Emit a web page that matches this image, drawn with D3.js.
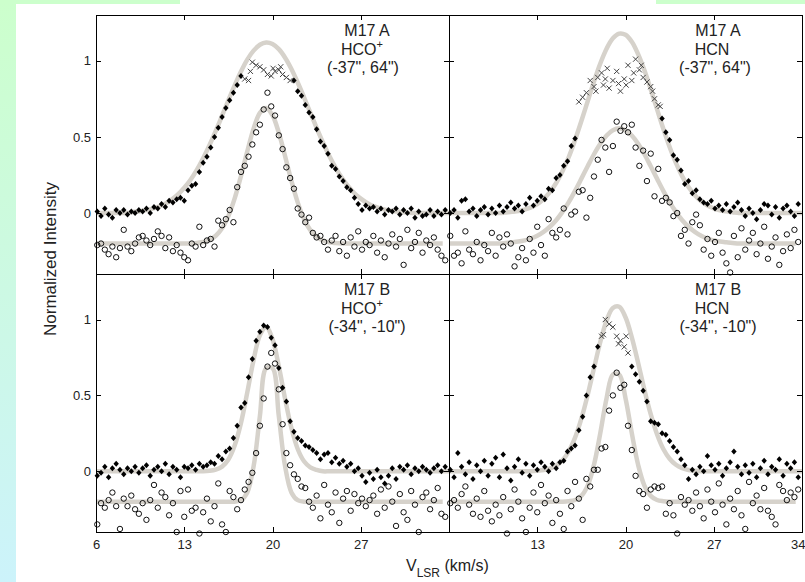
<!DOCTYPE html>
<html><head><meta charset="utf-8">
<script src="https://cdn.jsdelivr.net/npm/d3@7"></script>
<style>
html,body{margin:0;padding:0;background:#fff;}
svg{display:block;font-family:"Liberation Sans",Arial,Helvetica,sans-serif;}
</style></head><body>
<svg id="chart" width="805" height="582"></svg>
<script>
// ---------- data ----------
const xTicks = [6, 13, 20, 27, 34];
const yTicks = [0, 0.5, 1];
const chanVel = [6.1,6.4,6.7,7.0,7.3,7.6,7.9,8.2,8.5,8.8,9.1,9.4,9.7,10.0,10.3,10.6,10.9,11.2,11.5,11.8,12.1,12.4,12.7,13.0,13.3,13.6,13.9,14.2,14.5,14.8,15.1,15.4,15.7,16.0,16.3,16.6,16.9,17.2,17.5,17.8,18.1,18.4,18.7,19.0,19.3,19.6,19.9,20.2,20.5,20.8,21.1,21.4,21.7,22.0,22.3,22.6,22.9,23.2,23.5,23.8,24.1,24.4,24.7,25.0,25.3,25.6,25.9,26.2,26.5,26.8,27.1,27.4,27.7,28.0,28.3,28.6,28.9,29.2,29.5,29.8,30.1,30.4,30.7,31.0,31.3,31.6,31.9,32.2,32.5,32.8,33.1,33.4,33.7];
const fitVel = [6,6.5,7,7.5,8,8.5,9,9.5,10,10.5,11,11.5,12,12.5,13,13.5,14,14.5,15,15.5,16,16.5,17,17.5,18,18.5,19,19.5,20,20.5,21,21.5,22,22.5,23,23.5,24,24.5,25,25.5,26,26.5,27,27.5,28,28.5,29,29.5,30,30.5,31,31.5,32,32.5,33,33.5,34];

// M17 A HCO+
const tlDiamond = [0.01,-0.02,0.03,-0.01,-0.03,0.02,0.00,0.02,-0.01,0.01,0.00,0.02,0.01,0.03,0.00,0.04,0.03,0.06,0.04,0.08,0.07,0.09,0.10,0.08,0.15,0.18,0.19,0.27,0.33,0.37,0.43,0.50,0.56,0.63,0.69,0.74,0.79,0.84,0.90,null,null,null,null,null,null,null,null,null,null,null,null,null,0.87,0.80,0.77,0.71,0.66,0.63,0.55,0.47,0.44,0.39,0.31,0.29,0.24,0.21,0.17,0.15,0.10,0.06,0.02,0.05,0.03,0.04,0.01,0.03,-0.01,0.02,0.01,0.03,-0.01,0.02,0.00,0.03,-0.03,0.01,-0.02,-0.01,0.02,-0.02,0.01,-0.01,0.02];
const tlCircle = [-0.21,-0.20,-0.24,-0.27,-0.22,-0.29,-0.23,-0.11,-0.22,-0.25,-0.20,-0.16,-0.15,-0.18,-0.21,-0.17,-0.12,-0.15,-0.23,-0.16,-0.25,-0.21,-0.26,-0.29,-0.31,-0.20,-0.22,-0.09,-0.21,-0.18,-0.17,-0.22,-0.05,-0.08,-0.04,0.02,-0.06,0.17,0.27,0.31,0.37,0.45,0.53,0.58,0.68,0.79,0.70,0.64,0.51,0.42,0.30,0.23,0.16,0.03,-0.01,-0.06,-0.03,-0.13,-0.16,-0.15,-0.19,-0.24,-0.18,-0.15,-0.25,-0.19,-0.28,-0.16,-0.22,-0.12,-0.24,-0.19,-0.21,-0.15,-0.26,-0.18,-0.29,-0.20,-0.14,-0.22,-0.17,-0.34,-0.11,-0.23,-0.19,-0.13,-0.26,-0.18,-0.21,-0.16,-0.24,-0.28,-0.31];
const tlCrossVel = [17.8,18.1,18.4,18.7,19.0,19.3,19.6,19.9,20.2,20.5,20.8,21.1,21.4,18.25,20.05,20.65];
const tlCross = [0.88,0.87,0.99,0.97,0.96,0.94,0.91,0.90,0.93,0.94,0.91,0.89,0.87,0.93,0.95,0.96];
const tlFitUpper = [0,0,0,0,0,0,0.008,0.012,0.019,0.029,0.043,0.062,0.088,0.122,0.166,0.219,0.284,0.360,0.445,0.539,0.639,0.740,0.838,0.929,1.007,1.066,1.105,1.120,1.110,1.076,1.020,0.946,0.857,0.760,0.659,0.559,0.463,0.376,0.298,0.231,0.176,0.130,0.095,0.067,0.046,0.032,0.021,0.014,0.009,0.005,0,0,0,0,0,0,0];
const tlFitLower = [-0.2,-0.2,-0.2,-0.2,-0.2,-0.2,-0.2,-0.2,-0.2,-0.2,-0.2,-0.2,-0.2,-0.2,-0.2,-0.2,-0.196,-0.190,-0.177,-0.149,-0.100,-0.020,0.096,0.243,0.405,0.554,0.658,0.690,0.642,0.527,0.373,0.211,0.070,-0.039,-0.112,-0.156,-0.180,-0.192,-0.197,-0.2,-0.2,-0.2,-0.2,-0.2,-0.2,-0.2,-0.2,-0.2,-0.2,-0.2,-0.2,-0.2,-0.2,-0.2,-0.2,-0.2,null];

// M17 A HCN
const trDiamond = [0.00,0.02,-0.03,0.08,0.09,0.01,0.03,-0.02,0.02,0.04,-0.01,0.03,0.00,0.05,0.01,0.04,0.07,0.03,0.05,0.01,0.06,0.10,0.05,0.08,0.11,0.09,0.16,0.15,0.23,0.25,0.31,0.34,0.44,0.49,null,null,null,null,null,null,null,null,null,null,null,null,null,null,null,null,null,null,null,null,null,null,0.62,0.53,0.48,0.38,0.35,0.28,0.19,0.21,0.13,0.15,0.09,0.07,0.06,0.08,0.03,0.05,0.02,0.06,0.01,0.04,0.07,0.02,-0.02,0.03,0.00,-0.04,0.02,0.06,0.05,-0.01,0.04,-0.03,0.03,0.05,0.01,-0.02,0.06];
const trCircle = [-0.15,-0.28,-0.26,-0.33,-0.12,-0.24,-0.27,-0.19,-0.31,-0.21,-0.25,-0.13,-0.28,-0.16,-0.22,-0.14,-0.20,-0.35,-0.29,-0.23,-0.31,-0.17,-0.26,-0.09,-0.21,-0.28,-0.04,-0.13,-0.16,-0.11,0.03,-0.14,-0.01,0.01,0.14,0.15,-0.03,0.10,0.24,0.35,0.48,0.43,0.27,0.44,0.60,0.54,0.57,0.53,0.58,0.43,0.31,0.41,0.21,0.39,0.11,0.29,0.08,0.10,0.07,-0.02,0.00,-0.15,-0.11,-0.20,-0.06,-0.01,-0.08,-0.24,-0.17,-0.28,-0.19,-0.13,-0.26,-0.33,-0.39,-0.15,-0.29,-0.10,-0.24,-0.18,-0.13,-0.27,-0.20,-0.09,-0.30,-0.22,-0.16,-0.34,-0.25,-0.14,-0.23,-0.11,-0.19];
const trCrossVel = [16.3,16.6,16.9,17.2,17.5,17.8,18.1,18.4,18.7,19.0,19.3,19.6,19.9,20.2,20.5,20.8,21.1,21.4,21.7,22.0,22.3,22.6,17.65,18.25,18.55,19.45,20.05,20.65,21.25,22.15,22.75];
const trCross = [0.73,0.76,0.79,0.87,0.83,0.89,0.92,0.88,0.82,0.87,0.93,0.80,0.88,0.97,0.87,1.01,0.94,0.89,0.86,0.83,0.75,0.71,0.80,0.84,0.95,0.85,0.84,0.92,0.97,0.80,0.70];
const trFitUpper = [0,0,0,0,0,0,0,0,0,0.004,0.008,0.013,0.023,0.037,0.059,0.092,0.137,0.197,0.274,0.368,0.480,0.604,0.734,0.864,0.982,1.079,1.147,1.178,1.170,1.124,1.043,0.937,0.813,0.682,0.553,0.434,0.329,0.241,0.171,0.117,0.077,0.050,0.031,0.018,0.011,0.006,0,0,0,0,0,0,0,0,0,0,0];
const trFitLower = [-0.2,-0.2,-0.2,-0.2,-0.2,-0.2,-0.2,-0.2,-0.2,-0.196,-0.192,-0.187,-0.179,-0.167,-0.149,-0.124,-0.090,-0.047,0.008,0.072,0.146,0.226,0.307,0.386,0.455,0.509,0.544,0.556,0.544,0.509,0.455,0.386,0.307,0.226,0.146,0.072,0.008,-0.047,-0.090,-0.124,-0.149,-0.167,-0.179,-0.187,-0.192,-0.196,-0.2,-0.2,-0.2,-0.2,-0.2,-0.2,-0.2,-0.2,-0.2,-0.2,null];

// M17 B HCO+
const blDiamond = [-0.03,-0.01,0.03,-0.04,0.02,0.05,0.01,-0.02,0.02,0.00,0.03,-0.01,0.02,0.04,-0.03,0.01,0.03,0.00,0.05,-0.02,0.03,0.01,-0.04,0.03,0.02,0.04,0.01,0.05,0.03,0.04,0.06,0.05,0.10,0.08,0.13,0.15,0.22,0.30,0.42,0.45,0.62,0.74,0.86,0.92,0.96,0.95,0.88,0.83,0.68,0.55,0.46,0.33,0.26,0.22,0.20,0.17,0.16,0.14,0.12,0.08,0.11,0.12,0.06,0.09,0.05,0.07,0.03,0.05,0.00,0.02,-0.03,-0.07,-0.01,-0.05,0.01,-0.04,-0.08,-0.03,0.02,-0.05,0.03,0.01,0.04,-0.02,0.02,0.00,0.03,0.01,-0.01,0.02,0.04,0.00,0.03];
const blCircle = [-0.35,-0.21,-0.24,-0.19,-0.14,-0.23,-0.38,-0.18,-0.23,-0.16,-0.25,-0.28,-0.21,-0.32,-0.19,-0.09,-0.24,-0.14,-0.17,-0.29,-0.21,-0.40,-0.13,-0.30,-0.12,-0.26,-0.24,-0.41,-0.27,-0.18,-0.33,-0.23,-0.08,-0.35,-0.40,-0.13,-0.17,-0.25,-0.19,-0.12,-0.07,-0.01,0.12,0.30,0.48,0.69,0.78,0.71,0.54,0.31,0.12,0.04,-0.02,-0.05,-0.10,-0.11,-0.20,-0.24,-0.16,-0.31,-0.09,-0.22,-0.27,-0.14,-0.34,-0.18,-0.13,-0.26,-0.15,-0.21,-0.18,-0.23,-0.19,-0.16,-0.28,-0.12,-0.24,-0.10,-0.20,-0.36,-0.15,-0.27,-0.32,-0.13,-0.22,-0.40,-0.17,-0.14,-0.25,-0.19,-0.11,-0.28,-0.30];
const blCrossVel = [];
const blCross = [];
const blFitUpper = [0,0,0,0,0,0,0,0,0,0,0,0,0,0,0,0,0,0,0.003,0.011,0.031,0.078,0.170,0.319,0.520,0.733,0.896,0.950,0.871,0.692,0.477,0.285,0.147,0.066,0.026,0.009,0,0,0,0,0,0,0,0,0,0,0,0,0,0,0,0,0,0,0,0,0];
const blFitLower = [-0.2,-0.2,-0.2,-0.2,-0.2,-0.2,-0.2,-0.2,-0.2,-0.2,-0.2,-0.2,-0.2,-0.2,-0.2,-0.2,-0.2,-0.2,-0.2,-0.2,-0.2,-0.2,-0.2,-0.190,-0.139,0.032,0.364,0.680,0.680,0.364,0.032,-0.139,-0.190,-0.2,-0.2,-0.2,-0.2,-0.2,-0.2,-0.2,-0.2,-0.2,-0.2,-0.2,-0.2,-0.2,-0.2,-0.2,-0.2,-0.2,-0.2,-0.2,-0.2,-0.2,-0.2,-0.2,null];

// M17 B HCN
const brDiamond = [0.01,-0.04,0.12,0.03,-0.02,0.06,-0.05,0.04,0.00,0.07,-0.03,0.05,0.09,-0.04,0.11,0.02,-0.06,0.03,0.08,-0.01,0.05,-0.03,0.04,0.01,0.06,0.03,0.00,0.05,0.02,0.06,0.07,0.13,0.15,0.17,0.27,0.36,0.50,0.62,0.69,0.82,null,null,null,null,null,null,null,null,0.69,0.64,0.59,0.53,0.46,0.33,0.32,0.31,0.25,0.24,0.20,0.16,0.13,0.08,0.04,-0.05,0.01,-0.02,0.03,0.00,0.10,0.04,0.01,0.05,-0.03,0.02,0.06,0.13,0.03,-0.02,0.04,-0.01,0.05,-0.04,0.02,0.07,-0.02,0.03,0.01,0.08,-0.03,0.05,0.02,0.06,-0.04];
const brCircle = [-0.21,-0.19,-0.24,-0.15,-0.10,-0.22,-0.28,-0.18,-0.30,-0.13,-0.26,-0.33,-0.22,-0.29,-0.17,-0.41,-0.25,-0.12,-0.20,-0.31,-0.40,-0.24,-0.14,-0.27,-0.09,-0.21,-0.16,-0.34,-0.19,-0.28,-0.38,-0.13,-0.23,-0.07,-0.18,-0.32,-0.05,-0.10,0.01,0.01,0.15,0.16,0.40,0.50,0.65,0.55,0.57,0.30,0.14,-0.03,-0.13,-0.15,-0.24,-0.12,-0.10,-0.11,-0.10,-0.28,-0.21,-0.29,-0.41,-0.17,-0.22,-0.19,-0.26,-0.14,-0.23,-0.31,-0.12,-0.20,-0.27,-0.08,-0.22,-0.35,-0.18,-0.25,-0.13,-0.29,-0.38,-0.07,-0.21,-0.16,-0.25,-0.11,-0.26,-0.30,-0.35,-0.09,-0.13,-0.19,-0.14,-0.17,-0.12];
const brCrossVel = [18.1,18.4,18.7,19.0,19.3,19.6,19.9,20.2,18.25,19.45,20.05];
const brCross = [0.89,1.00,0.97,0.95,0.89,0.86,0.82,0.78,0.90,0.84,0.89];
const brFitUpper = [0,0,0,0,0,0,0,0,0,0,0,0,0,0,0.003,0.008,0.018,0.038,0.073,0.132,0.222,0.347,0.503,0.679,0.852,0.993,1.076,1.084,1.015,0.883,0.715,0.537,0.376,0.244,0.147,0.083,0.043,0.021,0.009,0.004,0,0,0,0,0,0,0,0,0,0,0,0,0,0,0,0,0];
const brFitLower = [-0.2,-0.2,-0.2,-0.2,-0.2,-0.2,-0.2,-0.2,-0.2,-0.2,-0.2,-0.2,-0.2,-0.2,-0.2,-0.2,-0.2,-0.2,-0.2,-0.197,-0.189,-0.162,-0.094,0.043,0.251,0.482,0.638,0.638,0.482,0.251,0.043,-0.094,-0.162,-0.189,-0.197,-0.2,-0.2,-0.2,-0.2,-0.2,-0.2,-0.2,-0.2,-0.2,-0.2,-0.2,-0.2,-0.2,-0.2,-0.2,-0.2,-0.2,-0.2,-0.2,-0.2,-0.2,null];

const panelSource = ["M17 A", "M17 A", "M17 B", "M17 B"];
const panelMolecule = ["HCO", "HCN", "HCO", "HCN"];
const panelCharge = ["+", "", "+", ""];
const panelOffset = ['(-37", 64")', '(-37", 64")', '(-34", -10")', '(-34", -10")'];

// ---------- layout ----------
const W = 805, H = 582;
const colX = [[96, 449], [449, 802]];
const rowY = [[274, 15], [532, 274]];
const xDomain = [6, 34], yDomain = [-0.4, 1.3];
const textCol = "#222";

const panels = [
  {col:0,row:0,diam:tlDiamond,circ:tlCircle,cv:tlCrossVel,cy:tlCross,fu:tlFitUpper,fl:tlFitLower,tx:[367,362,363]},
  {col:1,row:0,diam:trDiamond,circ:trCircle,cv:trCrossVel,cy:trCross,fu:trFitUpper,fl:trFitLower,tx:[718,712,715]},
  {col:0,row:1,diam:blDiamond,circ:blCircle,cv:blCrossVel,cy:blCross,fu:blFitUpper,fl:blFitLower,tx:[367,362,367]},
  {col:1,row:1,diam:brDiamond,circ:brCircle,cv:brCrossVel,cy:brCross,fu:brFitUpper,fl:brFitLower,tx:[718,712,718]}
];

const svg = d3.select("#chart");
const defs = svg.append("defs");
const grad = defs.append("linearGradient").attr("id","edge").attr("x1",0).attr("y1",0).attr("x2",0).attr("y2",1);
grad.append("stop").attr("offset","0%").attr("stop-color","#ccffcc");
grad.append("stop").attr("offset","100%").attr("stop-color","#ccf3fb");
svg.append("rect").attr("width",W).attr("height",H).attr("fill","#fff");
svg.append("rect").attr("x",0).attr("y",0).attr("width",16).attr("height",H).attr("fill","url(#edge)");
svg.append("rect").attr("x",0).attr("y",0).attr("width",180).attr("height",4).attr("fill","#ccffcc");
svg.append("rect").attr("x",656).attr("y",0).attr("width",149).attr("height",4).attr("fill","#ccffcc");

panels.forEach((p, k) => {
  const x = d3.scaleLinear().domain(xDomain).range(colX[p.col]);
  const y = d3.scaleLinear().domain(yDomain).range(rowY[p.row]);
  const g = svg.append("g");

  const line = d3.line().defined(d => d[1] != null)
    .x(d => x(d[0])).y(d => y(d[1])).curve(d3.curveCatmullRom.alpha(0.5));
  [p.fu, p.fl].forEach(arr => {
    g.append("path").datum(fitVel.map((v,i) => [v, arr[i]]))
      .attr("d", line).attr("fill","none").attr("stroke","#d6d2cb").attr("stroke-width",4.5);
  });

  g.append("g").selectAll("circle")
    .data(chanVel.map((v,i) => [v, p.circ[i]]).filter(d => d[1] != null))
    .join("circle").attr("cx", d => x(d[0])).attr("cy", d => y(d[1]))
    .attr("r", 2.7).attr("fill","none").attr("stroke","#111").attr("stroke-width",1);

  g.append("g").selectAll("path")
    .data(chanVel.map((v,i) => [v, p.diam[i]]).filter(d => d[1] != null))
    .join("path").attr("d","M0,-3L2.7,0L0,3L-2.7,0Z")
    .attr("transform", d => `translate(${x(d[0])},${y(d[1])})`).attr("fill","#000");

  g.append("g").selectAll("path")
    .data(p.cv.map((v,i) => [v, p.cy[i]]))
    .join("path").attr("d","M-2.6,-2.6L2.6,2.6M-2.6,2.6L2.6,-2.6")
    .attr("transform", d => `translate(${x(d[0])},${y(d[1])})`)
    .attr("fill","none").attr("stroke","#444").attr("stroke-width",1);

  // frame
  g.append("rect").attr("x", colX[p.col][0]).attr("y", rowY[p.row][1])
    .attr("width", colX[p.col][1]-colX[p.col][0]).attr("height", rowY[p.row][0]-rowY[p.row][1])
    .attr("fill","none").attr("stroke","#000").attr("stroke-width",1).attr("shape-rendering","crispEdges");

  const styleAxis = a => {
    a.select(".domain").remove();
    a.attr("font-family", null).attr("font-size", 13);
    a.selectAll("line").attr("stroke","#000").attr("shape-rendering","crispEdges");
    a.selectAll("text").attr("fill", textCol);
  };
  const xFmt = d => (p.row === 1 && !(p.col === 0 && d === 34) && !(p.col === 1 && d === 6)) ? d : "";
  const bx = g.append("g").attr("transform", `translate(0,${rowY[p.row][0]})`)
    .call(d3.axisBottom(x).tickValues(xTicks).tickSizeInner(-5).tickSizeOuter(0).tickPadding(8).tickFormat(xFmt))
    .call(styleAxis);
  // keep the last label of the right column inside the page
  if (p.col === 1) bx.selectAll(".tick text").filter(d => d === 34).attr("text-anchor","end").attr("x", 3);
  g.append("g").attr("transform", `translate(0,${rowY[p.row][1]})`)
    .call(d3.axisTop(x).tickValues(xTicks).tickSizeInner(-5).tickSizeOuter(0).tickFormat(""))
    .call(styleAxis);
  g.append("g").attr("transform", `translate(${colX[p.col][0]},0)`)
    .call(d3.axisLeft(y).tickValues(yTicks).tickSizeInner(-5).tickSizeOuter(0).tickPadding(5)
      .tickFormat(d => p.col === 0 ? d : ""))
    .call(styleAxis);
  g.append("g").attr("transform", `translate(${colX[p.col][1]},0)`)
    .call(d3.axisRight(y).tickValues(yTicks).tickSizeInner(-5).tickSizeOuter(0).tickFormat(""))
    .call(styleAxis);

  // annotation
  const top = rowY[p.row][1];
  const ann = g.append("g").attr("font-size", 16).attr("fill", textCol).attr("text-anchor","middle");
  ann.append("text").attr("x", p.tx[0]).attr("y", top + 21).text(panelSource[k]);
  const mol = ann.append("text").attr("x", p.tx[1]).attr("y", top + 39.5);
  mol.append("tspan").text(panelMolecule[k]);
  if (panelCharge[k]) mol.append("tspan").attr("font-size", 11).attr("dy", -7).text(panelCharge[k]);
  ann.append("text").attr("x", p.tx[2]).attr("y", top + 58).text(panelOffset[k]);
});

// axis titles
svg.append("text").attr("transform","translate(56,259) rotate(-90)")
  .attr("text-anchor","middle").attr("font-size",17).attr("fill",textCol).text("Normalized Intensity");
const xt = svg.append("text").attr("x",406).attr("y",571).attr("font-size",16).attr("fill",textCol);
xt.append("tspan").text("V");
xt.append("tspan").attr("font-size",12).attr("dy",6).text("LSR");
xt.append("tspan").attr("dy",-6).text(" (km/s)");
</script>
</body></html>
